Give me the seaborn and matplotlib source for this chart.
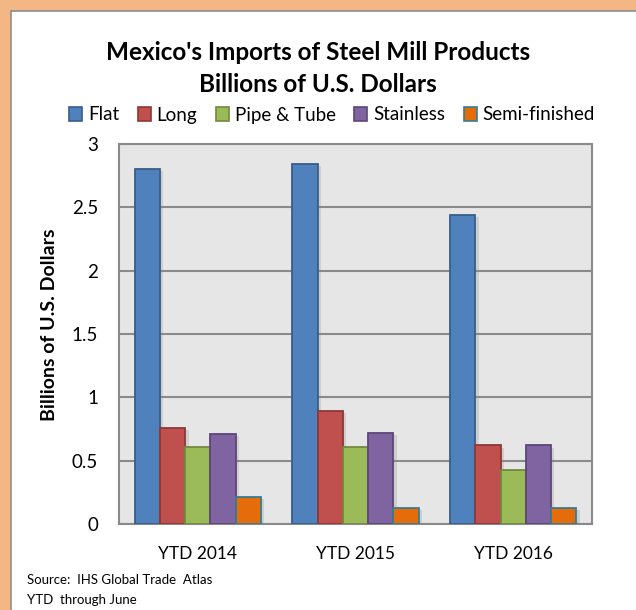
import matplotlib
matplotlib.use("Agg")
import matplotlib.pyplot as plt
import matplotlib.patches as mpatches
import matplotlib.patheffects as pe
import seaborn as sns
import pandas as pd

periods = ["YTD 2014", "YTD 2015", "YTD 2016"]
products = ["Flat", "Long", "Pipe & Tube", "Stainless", "Semi-finished"]
flat = [2.80, 2.84, 2.44]
long_ = [0.76, 0.89, 0.62]
pipe = [0.61, 0.61, 0.425]
stainless = [0.71, 0.72, 0.62]
semi = [0.21, 0.125, 0.125]
yticks = [0, 0.5, 1, 1.5, 2, 2.5, 3]
ytick_labels = ["0", "0.5", "1", "1.5", "2", "2.5", "3"]

fills = ["#4F81BD", "#C0504D", "#9BBB59", "#8064A2", "#E46C0A"]
edges = ["#385D8A", "#8C3836", "#71893F", "#5C4776", "#357D91"]

rows = []
for name, vals in zip(products, [flat, long_, pipe, stainless, semi]):
    for p, v in zip(periods, vals):
        rows.append({"Period": p, "Product": name, "Value": v})
df = pd.DataFrame(rows)

sns.set_theme(style="white")
plt.rcParams["font.family"] = ["Lato", "DejaVu Sans"]
plt.rcParams["text.color"] = "black"
plt.rcParams["axes.labelcolor"] = "black"

fig = plt.figure(figsize=(6.36, 6.10), dpi=100)
fig.patch.set_facecolor("#F2B784")
# white panel with grey border
panel = mpatches.Rectangle((10.5 / 636, -0.01), 1, 1.01 - 10.5 / 610, transform=fig.transFigure,
                           facecolor="white", edgecolor="#8E8E8E", linewidth=1.2, zorder=-5)
fig.patches.append(panel)

ax = fig.add_axes([119 / 636, 1 - 524 / 610, 473 / 636, 380 / 610])
ax.set_zorder(2)
ax.set_facecolor("#E6E6E6")

sns.barplot(data=df, x="Period", y="Value", hue="Product", order=periods,
            hue_order=products, palette=fills, width=0.8, ax=ax,
            saturation=1, errorbar=None, legend=False, zorder=3)

shadow = [pe.SimplePatchShadow(offset=(2.5, -1.5), shadow_rgbFace="#888888", alpha=0.25), pe.Normal()]
for cont, ec in zip(ax.containers, edges):
    for bar in cont:
        bar.set_edgecolor(ec)
        bar.set_linewidth(1.3)
        bar.set_path_effects(shadow)

ax.set_ylim(0, 3)
ax.set_yticks(yticks)
ax.set_yticklabels(ytick_labels)
ax.yaxis.grid(True, color="#8A8A8A", linewidth=1.5, zorder=1)
ax.set_axisbelow(True)
for s in ax.spines.values():
    s.set_visible(True)
    s.set_color("#8A8A8A")
    s.set_linewidth(1.5)
ax.tick_params(axis="both", length=0, colors="black")
ax.tick_params(axis="y", pad=15, labelsize=13.5)
ax.tick_params(axis="x", pad=16, labelsize=12.5)
ax.set_xlabel("")
ax.set_ylabel("Billions of U.S. Dollars", fontsize=14, fontweight="bold", color="black")
ax.yaxis.set_label_coords((58 - 119) / 473, (524 - 325) / 380)

fig.text(0.5, 1 - 52 / 610, "Mexico's Imports of Steel Mill Products", ha="center", va="center",
         fontsize=17.5, fontweight="bold", color="black")
fig.text(0.5, 1 - 84 / 610, "Billions of U.S. Dollars", ha="center", va="center",
         fontsize=17.5, fontweight="bold", color="black")

handles = [mpatches.Patch(facecolor=f, edgecolor=e, linewidth=1.2, label=n)
           for f, e, n in zip(fills, edges, products)]
leg = fig.legend(handles=handles, loc="center", bbox_to_anchor=(0.522, 1 - 115 / 610), ncol=5,
                 frameon=False, fontsize=13.5, handlelength=0.7, handleheight=0.7,
                 handletextpad=0.3, columnspacing=1.0)
for t in leg.get_texts():
    t.set_color("black")

fig.text(27 / 636, 1 - 580 / 610, "Source:  IHS Global Trade  Atlas", ha="left", va="center", fontsize=9.5)
fig.text(27 / 636, 1 - 600 / 610, "YTD  through June", ha="left", va="center", fontsize=9.5)

fig.savefig("out.png", dpi=100, facecolor=fig.get_facecolor())
